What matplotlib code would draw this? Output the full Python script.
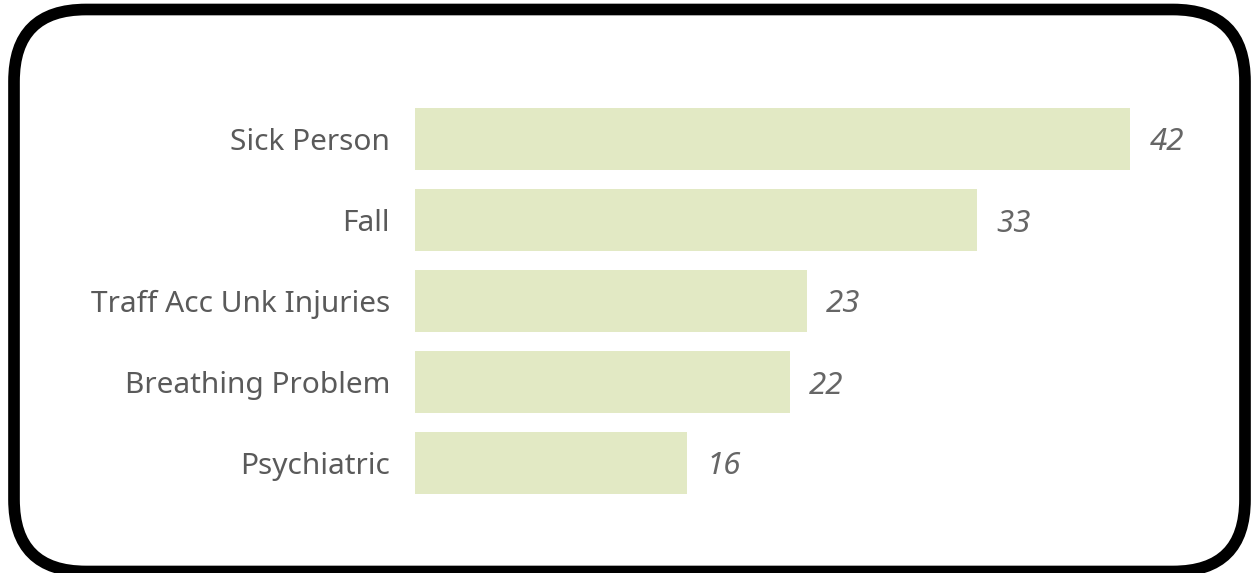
import matplotlib.pyplot as plt
from matplotlib.patches import FancyBboxPatch

# Datos
categorias = ["Sick Person", "Fall", "Traff Acc Unk Injuries", "Breathing Problem", "Psychiatric"]
valores = [42, 33, 23, 22, 16]

W, H = 1251, 573
fig = plt.figure(figsize=(W / 100, H / 100), dpi=100)

# Marco redondeado, en pixeles
fondo = fig.add_axes([0, 0, 1, 1])
fondo.set_xlim(0, W)
fondo.set_ylim(H, 0)
fondo.set_axis_off()
marco = FancyBboxPatch((14, 9.5), 1231, 562, boxstyle="round,pad=0,rounding_size=72",
                       fill=False, edgecolor="black", linewidth=8.4)
fondo.add_patch(marco)

# Barras
left = 415 / W
ancho = (48 * 715 / 42) / W
top_px, bot_px = 98.5, 503.5
ax = fig.add_axes([left, 1 - bot_px / H, ancho, (bot_px - top_px) / H])
pos = range(len(categorias))
ax.barh(pos, valores, height=0.765, color="#E2E9C4")
ax.set_xlim(0, 48)
ax.set_ylim(len(categorias) - 0.5, -0.5)
ax.set_yticks(list(pos))
ax.set_yticklabels(categorias, fontsize=21.5, color="#5a5a5a", family="Noto Sans")
ax.tick_params(axis="y", length=0, pad=18)
ax.set_xticks([])
for s in ax.spines.values():
    s.set_visible(False)
ax.patch.set_alpha(0)

for i, v in enumerate(valores):
    ax.text(v + 1.15, i, str(v), va="center_baseline", ha="left", fontsize=22.5,
            style="italic", color="#666666", family="Noto Sans")

fig.savefig("out.png", dpi=100)
